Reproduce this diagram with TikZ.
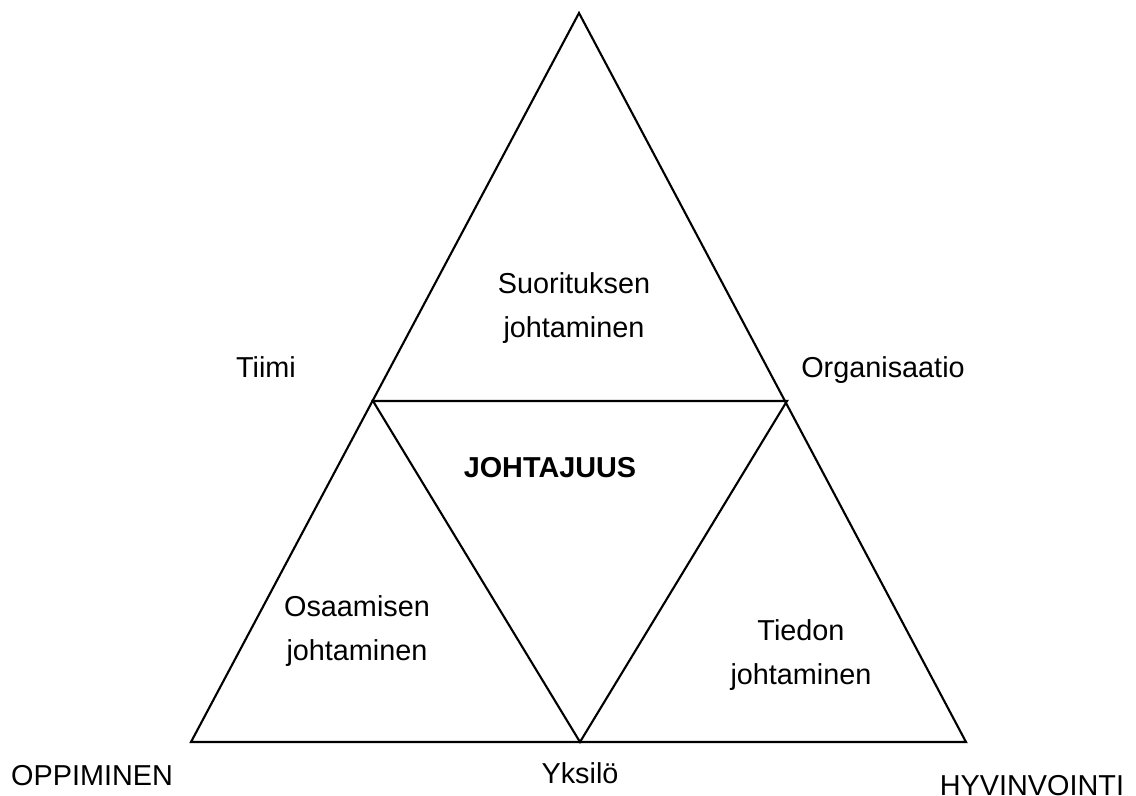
\documentclass[tikz,border=0pt]{standalone}
\usepackage{fontspec}
\setmainfont{Liberation Sans}
\usetikzlibrary{positioning}

\begin{document}
\begin{tikzpicture}[line width=0.6pt,
  every node/.style={inner sep=0pt, align=center, font=\fontsize{8.2pt}{12.6pt}\selectfont}]
  \useasboundingbox (0,0) rectangle (11.36,-7.96);
  % Corners of the triangles
  \coordinate (top) at (5.79,-0.13);
  \coordinate (tl) at (3.73,-4.01);
  \coordinate (tr) at (7.87,-4.01);
  \coordinate (bl) at (1.91,-7.42);
  \coordinate (bm) at (5.80,-7.42);
  \coordinate (br) at (9.66,-7.42);
  % Draw the outer and the inner triangle
  \draw (top) -- (bl) -- (br) -- cycle;
  \draw (tl) -- (tr) -- (bm) -- cycle;
  % Labels inside
  \node (suoritus) at (5.74,-3.08) {Suorituksen\\johtaminen};
  \node[font=\fontsize{8.2pt}{12.6pt}\selectfont\bfseries, anchor=base] (johtajuus) at (5.50,-4.77) {JOHTAJUUS};
  \node (osaaminen) at (3.57,-6.31) {Osaamisen\\johtaminen};
  \node (tieto) at (8.01,-6.55) {Tiedon\\johtaminen};
  % Labels at the corners
  \node[anchor=base] (tiimi) at (2.66,-3.77) {Tiimi};
  \node[anchor=base] (organisaatio) at (8.83,-3.77) {Organisaatio};
  \node[anchor=base] (oppiminen) at (0.92,-7.85) {OPPIMINEN};
  \node[anchor=base] (yksilo) at (5.80,-7.83) {Yksilö};
  \node[anchor=base] (hyvinvointi) at (10.32,-7.95) {HYVINVOINTI};
\end{tikzpicture}
\end{document}
